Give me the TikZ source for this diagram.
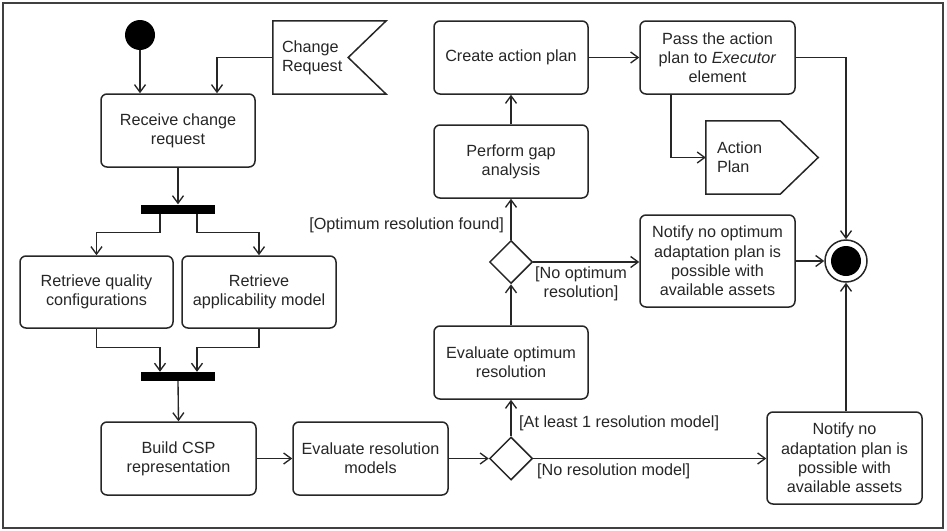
\documentclass[tikz,border=0pt]{standalone}
\usepackage{fontspec}
\setmainfont{Liberation Sans}
\usetikzlibrary{arrows.meta,shapes.geometric}
\begin{document}
\begin{tikzpicture}[x=1pt,y=-1pt,
  font=\fontsize{16.2}{19.2}\selectfont,
  act/.style={draw=black!85, rounded corners=6pt, line width=1.5pt, align=center,
    inner sep=0pt, minimum width=154pt, minimum height=73pt, text=black!85},
  bar/.style={fill=black, draw=none, minimum width=74pt, minimum height=9pt, inner sep=0pt},
  dec/.style={diamond, draw=black!85, line width=1.5pt, minimum width=43pt,
    minimum height=43pt, inner sep=0pt},
  sig/.style={draw=none, minimum height=73pt, align=left, text=black!85},
  sigline/.style={draw=black!85, line width=1.5pt},
  arr/.style={draw=black!85, line width=1.35pt, -{Straight Barb[length=7.5pt,width=11pt]}},
  guard/.style={inner sep=0pt, text=black!85, align=center}]

% canvas and outer frame
\useasboundingbox (0,0) rectangle (947,530);
\draw[line width=1.5pt, black!75] (3,3) rectangle (943,528);

% start node
\node[circle, fill=black, minimum size=30pt, inner sep=0pt] (init) at (140,35) {};

% signal receipt
\node[sig, text width=95pt, inner xsep=9pt] (creq) at (329.5,57.5) {Change\\Request};
\draw[sigline] (creq.north west) -- (creq.north east) -- ([xshift=-38pt]creq.east)
  -- (creq.south east) -- (creq.south west) -- cycle;

% left column
\node[act] (recv) at (178,130.5) {Receive change\\request};
\node[bar] (fork) at (178,209) {};
\node[act, minimum width=153pt, minimum height=72pt] (rq) at (96.5,292) {Retrieve quality\\configurations};
\node[act, minimum height=72pt] (ra) at (259,292) {Retrieve\\applicability model};
\node[bar] (join) at (178,376.5) {};
\node[act, minimum width=155pt] (build) at (178.5,458.5) {Build CSP\\representation};
\node[act, minimum width=155pt] (evalres) at (370.5,458.5) {Evaluate resolution\\models};

% middle column
\node[dec] (d1) at (511,458.5) {};
\node[act] (evalopt) at (511,362.5) {Evaluate optimum\\resolution};
\node[dec] (d2) at (511,262) {};
\node[act] (gap) at (511,161.5) {Perform gap\\analysis};
\node[act] (create) at (511,57.5) {Create action plan};

% right column
\node[act, minimum width=155pt] (pass) at (717.5,57.5) {Pass the action\\plan to \textit{Executor}\\element};
\node[sig, text width=90pt, inner xsep=11pt] (plan) at (762,157.5) {Action\\Plan};
\draw[sigline] (plan.north west) -- ([xshift=-38pt]plan.north east) -- (plan.east)
  -- ([xshift=-38pt]plan.south east) -- (plan.south west) -- cycle;
\node[act, minimum width=155pt, minimum height=92pt] (nopt) at (717.5,261) {Notify no optimum\\adaptation plan is\\possible with\\available assets};
\node[act, minimum width=155pt, minimum height=92pt] (nres) at (844.5,458) {Notify no\\adaptation plan is\\possible with\\available assets};

% final node
\node[circle, draw=black!85, line width=1.5pt, minimum size=42pt, inner sep=0pt] (final) at (846,261) {};
\fill (final.center) circle (15pt);

% guards
\node[guard, anchor=east] (gfound) at (504,225) {[Optimum resolution found]};
\node[guard] (gnoopt) at (581,283.5) {[No optimum\\resolution]};
\node[guard, anchor=west] (gleast) at (519,423) {[At least 1 resolution model]};
\node[guard, anchor=west] (gnores) at (537,471) {[No resolution model]};

% flows
\draw[arr] (init.south) -- (init.south |- recv.north);
\draw[arr] (creq.west) -| ([xshift=39pt]recv.north);
\draw[arr] (recv.south) -- (fork.north);
\draw[arr] ([xshift=-18pt]fork.south) -- ++(0,19) -| (rq.north);
\draw[arr] ([xshift=19pt]fork.south) -- ++(0,19) -| (ra.north);
\draw[arr] (rq.south) -- ++(0,19) -| ([xshift=-18pt]join.north);
\draw[arr] (ra.south) -- ++(0,19) -| ([xshift=19pt]join.north);
\draw[arr] (join.south) -- (build.north);
\draw[arr] (build.east) -- (evalres.west);
\draw[arr] (evalres.east) -- (d1.west);
\draw[arr] (d1.north) -- (evalopt.south);
\draw[arr] (d1.east) -- (d1.east -| nres.west);
\draw[arr] (evalopt.north) -- (d2.south);
\draw[arr] (d2.north) -- (gap.south);
\draw[arr] (d2.east) -- (d2.east -| nopt.west);
\draw[arr] (gap.north) -- (create.south);
\draw[arr] (create.east) -- (pass.west);
\draw[arr] ([xshift=-46.5pt]pass.south) |- (plan.west);
\draw[arr] (pass.east) -| (final.north);
\draw[arr] (nopt.east) -- (final.west);
\draw[arr] (nres.north -| final.south) -- (final.south);
\end{tikzpicture}
\end{document}
